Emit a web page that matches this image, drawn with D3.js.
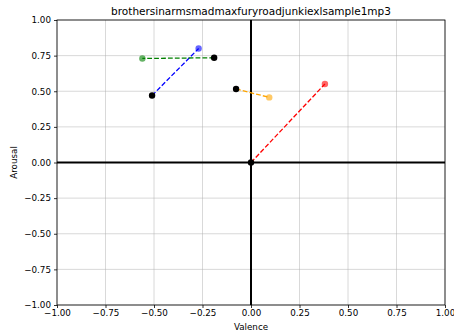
<!DOCTYPE html>
<html>
<head>
<meta charset="utf-8">
<script src="https://cdn.jsdelivr.net/npm/d3@7"></script>
<style>
  body { margin: 0; background: #fff; }
  text { font-family: "DejaVu Sans", sans-serif; fill: #000; }
</style>
</head>
<body>
<div id="chart"></div>
<script>
// start (black) and end (coloured) points for each segment
var seriesColors = ['blue', 'green', 'orange', 'red']
var startValence = [-0.51, -0.19, -0.077, 0.0]
var startArousal = [0.47, 0.735, 0.516, 0.0]
var endValence = [-0.27, -0.56, 0.094, 0.381]
var endArousal = [0.80, 0.73, 0.457, 0.551]
var tickValues = [-1, -0.75, -0.5, -0.25, 0, 0.25, 0.5, 0.75, 1]

var width = 454
var height = 336
var margin = { top: 20, right: 9, bottom: 31, left: 57 }

var svg = d3.select('#chart').append('svg')
    .attr('width', width)
    .attr('height', height)

var x = d3.scaleLinear().domain([-1, 1]).range([margin.left, width - margin.right])
var y = d3.scaleLinear().domain([-1, 1]).range([height - margin.bottom, margin.top])

// grid
svg.append('g').selectAll('line.gx')
    .data(tickValues)
    .enter().append('line')
    .attr('x1', function (d) { return x(d) }).attr('x2', function (d) { return x(d) })
    .attr('y1', y(-1)).attr('y2', y(1))
    .style('stroke', '#b0b0b0').style('stroke-width', 0.8).style('opacity', 0.6)
svg.append('g').selectAll('line.gy')
    .data(tickValues)
    .enter().append('line')
    .attr('y1', function (d) { return y(d) }).attr('y2', function (d) { return y(d) })
    .attr('x1', x(-1)).attr('x2', x(1))
    .style('stroke', '#b0b0b0').style('stroke-width', 0.8).style('opacity', 0.6)

// thick zero lines
svg.append('line').attr('x1', x(0)).attr('x2', x(0)).attr('y1', y(-1)).attr('y2', y(1))
    .style('stroke', '#000').style('stroke-width', 2)
svg.append('line').attr('x1', x(-1)).attr('x2', x(1)).attr('y1', y(0)).attr('y2', y(0))
    .style('stroke', '#000').style('stroke-width', 2)

// frame
svg.append('rect')
    .attr('x', x(-1)).attr('y', y(1))
    .attr('width', x(1) - x(-1)).attr('height', y(-1) - y(1))
    .style('fill', 'none').style('stroke', '#000').style('stroke-width', 0.8)

var fmt = function (d) { return d3.format('.2f')(d).replace('-', '\u2212') }

var xAxis = svg.append('g')
    .attr('transform', 'translate(0,' + y(-1) + ')')
    .call(d3.axisBottom(x).tickValues(tickValues).tickFormat(fmt).tickSize(3).tickPadding(2))
var yAxis = svg.append('g')
    .attr('transform', 'translate(' + x(-1) + ',0)')
    .call(d3.axisLeft(y).tickValues(tickValues).tickFormat(fmt).tickSize(3).tickPadding(3))
;[xAxis, yAxis].forEach(function (a) {
    a.select('.domain').remove()
    a.selectAll('line').style('stroke', '#000').style('stroke-width', 0.8)
    a.selectAll('text').style('font-size', '8.75px').style('font-family', '"DejaVu Sans", sans-serif')
})

// dashed connections
var idx = d3.range(seriesColors.length)
svg.append('g').selectAll('line')
    .data(idx)
    .enter().append('line')
    .attr('x1', function (i) { return x(startValence[i]) })
    .attr('y1', function (i) { return y(startArousal[i]) })
    .attr('x2', function (i) { return x(endValence[i]) })
    .attr('y2', function (i) { return y(endArousal[i]) })
    .style('stroke', function (i) { return seriesColors[i] })
    .style('stroke-width', 1.3)
    .style('stroke-dasharray', '4.8,2.1')

// end points (translucent)
svg.append('g').selectAll('circle')
    .data(idx)
    .enter().append('circle')
    .attr('cx', function (i) { return x(endValence[i]) })
    .attr('cy', function (i) { return y(endArousal[i]) })
    .attr('r', 3.2)
    .style('fill', function (i) { return seriesColors[i] })
    .style('opacity', 0.6)

// start points
svg.append('g').selectAll('circle')
    .data(idx)
    .enter().append('circle')
    .attr('cx', function (i) { return x(startValence[i]) })
    .attr('cy', function (i) { return y(startArousal[i]) })
    .attr('r', 3.2)
    .style('fill', '#000')

// title and labels
svg.append('text')
    .attr('x', (x(-1) + x(1)) / 2).attr('y', 15)
    .attr('text-anchor', 'middle')
    .style('font-size', '10.5px')
    .text('brothersinarmsmadmaxfuryroadjunkiexlsample1mp3')
svg.append('text')
    .attr('x', (x(-1) + x(1)) / 2).attr('y', 330)
    .attr('text-anchor', 'middle')
    .style('font-size', '8.75px')
    .text('Valence')
svg.append('text')
    .attr('transform', 'translate(17,' + y(0) + ') rotate(-90)')
    .attr('text-anchor', 'middle')
    .style('font-size', '8.75px')
    .text('Arousal')
</script>
</body>
</html>
